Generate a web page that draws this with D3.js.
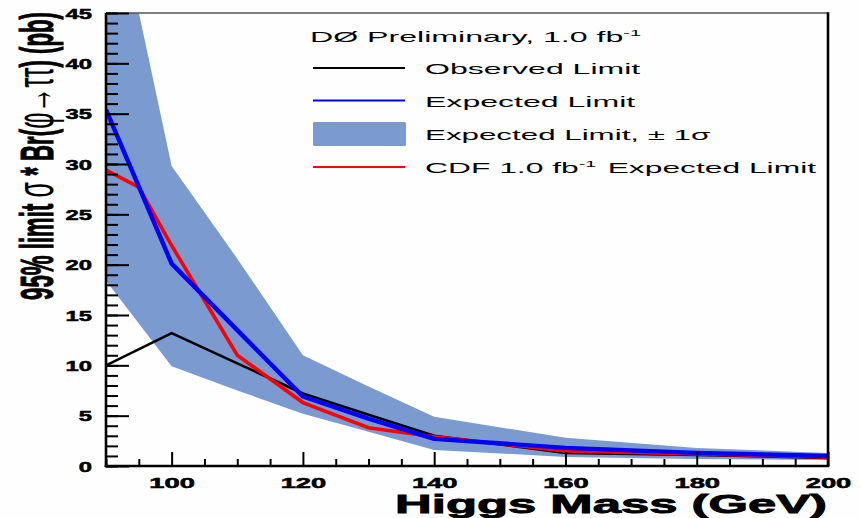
<!DOCTYPE html>
<html>
<head>
<meta charset="utf-8">
<script src="https://cdn.jsdelivr.net/npm/d3@7"></script>
<style>
  body { margin: 0; background: #fff; }
  svg { display: block; }
  text { font-family: "Liberation Sans", Arial, sans-serif; }
</style>
</head>
<body>
<div id="chart"></div>
<script>
// values (pb)
const masses = [90, 100, 110, 120, 130, 140, 160, 180, 200];
const observed = [10.0, 13.2, 10.2, 7.2, 5.1, 3.0, 1.3, 1.1, 0.8];
const expected = [35.4, 20.1, 13.5, 6.9, 4.7, 2.7, 1.8, 1.3, 1.0];
const bandHigh = [60.3, 29.8, 20.6, 11.0, 7.9, 4.9, 2.8, 1.8, 1.3];
const bandLow = [18.4, 9.9, 7.5, 5.2, 3.4, 1.6, 0.9, 0.7, 0.6];

const cdfMasses = [90, 95, 100, 110, 120, 130, 140, 160, 180, 200];
const cdfExpected = [29.4, 27.7, 21.9, 11.0, 6.3, 3.8, 2.9, 1.5, 1.2, 0.9];

const xMajor = [100, 120, 140, 160, 180, 200];
const xMinor = [90, 95, 105, 110, 115, 125, 130, 135, 145, 150, 155, 165, 170, 175, 185, 190, 195];
const yMajor = [0, 5, 10, 15, 20, 25, 30, 35, 40, 45];

const legendTitle = "DØ Preliminary, 1.0 fb^-1";
const legendLabels = ["Observed Limit", "Expected Limit", "Expected Limit, ± 1σ", "CDF 1.0 fb^-1 Expected Limit"];

const W = 861, H = 518;
const bandColor = "#7b9ad0";

const svg = d3.select("#chart").append("svg")
  .attr("width", W)
  .attr("height", H)
  .style("background", "#fefefe");

const x = d3.scaleLinear().domain([90, 200]).range([106, 828]);
const y = d3.scaleLinear().domain([0, 45]).range([466, 13]);

// stretch a text horizontally so it fills a given width (the picture is squashed)
function fit(sel, target, base) {
  sel.each(function() {
    const w = this.getBBox().width;
    d3.select(this).attr("transform", base + " scale(" + (target / w) + ",1)");
  });
}

// text with "^-1" superscripts
function richText(g, str, size) {
  const t = g.append("text").attr("font-size", size);
  str.split(/(\^-1)/).forEach(part => {
    if (part === "^-1") {
      t.append("tspan").attr("font-size", size * 0.62).attr("dy", -size * 0.42).text("-1");
      t.append("tspan").attr("font-size", size).attr("dy", size * 0.42).text("\u200a");
    } else if (part) {
      t.append("tspan").text(part);
    }
  });
  return t;
}

svg.append("clipPath").attr("id", "plot")
  .append("rect")
  .attr("x", x(90)).attr("y", y(45))
  .attr("width", x(200) - x(90)).attr("height", y(0) - y(45));

const plot = svg.append("g").attr("clip-path", "url(#plot)");

const area = d3.area()
  .x((d, i) => x(masses[i]))
  .y0((d, i) => y(bandLow[i]))
  .y1((d, i) => y(bandHigh[i]));

plot.append("path")
  .datum(masses)
  .attr("d", area)
  .attr("fill", bandColor);

const line = d3.line()
  .x(d => x(d[0]))
  .y(d => y(d[1]));

plot.append("path")
  .datum(d3.zip(masses, observed))
  .attr("d", line)
  .attr("fill", "none")
  .attr("stroke", "#000")
  .attr("stroke-width", 2.6);

plot.append("path")
  .datum(d3.zip(cdfMasses, cdfExpected))
  .attr("d", line)
  .attr("fill", "none")
  .attr("stroke", "#ff0000")
  .attr("stroke-width", 3.6);

plot.append("path")
  .datum(d3.zip(masses, expected))
  .attr("d", line)
  .attr("fill", "none")
  .attr("stroke", "#0000ff")
  .attr("stroke-width", 4.4)
  .attr("stroke-linejoin", "round");

// frame
svg.append("line")
  .attr("x1", x(90)).attr("x2", x(200))
  .attr("y1", y(45)).attr("y2", y(45))
  .attr("stroke", "#555").attr("stroke-width", 1.5);
svg.append("line")
  .attr("x1", x(200)).attr("x2", x(200))
  .attr("y1", y(45) - 0.7).attr("y2", y(0))
  .attr("stroke", "#000").attr("stroke-width", 2.6);

// x axis
const gxMinor = svg.append("g")
  .attr("transform", "translate(0," + y(0) + ")")
  .call(d3.axisBottom(x).tickValues(xMinor).tickSize(-7).tickFormat(""));
const gx = svg.append("g")
  .attr("transform", "translate(0," + y(0) + ")")
  .call(d3.axisBottom(x).tickValues(xMajor).tickSize(-14).tickFormat(d3.format("d")));

// y axis
const gyMinor = svg.append("g")
  .attr("transform", "translate(" + x(90) + ",0)")
  .call(d3.axisLeft(y).tickValues(d3.range(0, 46, 1)).tickSize(-12).tickFormat(""));
const gy = svg.append("g")
  .attr("transform", "translate(" + x(90) + ",0)")
  .call(d3.axisLeft(y).tickValues(yMajor).tickSize(-23).tickFormat(d3.format("d")));

[gx, gxMinor, gy, gyMinor].forEach(g => {
  g.select(".domain").remove();
  g.selectAll("line").attr("stroke", "#000").attr("stroke-width", 2);
});

gx.selectAll("text")
  .attr("x", 0).attr("y", 0).attr("dy", null)
  .attr("text-anchor", "middle")
  .attr("font-size", 14)
  .attr("font-weight", "bold")
  .attr("fill", "#000")
  .attr("stroke", "#000").attr("stroke-width", 0.5)
  .attr("transform", "translate(0,22) scale(1.95,1)");

gy.selectAll("text")
  .attr("x", 0).attr("y", 0).attr("dy", null)
  .attr("text-anchor", "end")
  .attr("font-size", 14)
  .attr("font-weight", "bold")
  .attr("fill", "#000")
  .attr("stroke", "#000").attr("stroke-width", 0.5)
  .attr("transform", "translate(-14,5) scale(1.7,1)");

svg.append("line")
  .attr("x1", x(90)).attr("x2", x(90))
  .attr("y1", y(45)).attr("y2", y(0) + 1.3)
  .attr("stroke", "#000").attr("stroke-width", 2.6);
svg.append("line")
  .attr("x1", x(90) - 1.3).attr("x2", x(200) + 1.3)
  .attr("y1", y(0)).attr("y2", y(0))
  .attr("stroke", "#000").attr("stroke-width", 2.6);

// axis titles
const xTitle = svg.append("text")
  .attr("text-anchor", "end")
  .attr("font-size", 25)
  .attr("font-weight", "bold")
  .attr("stroke", "#000").attr("stroke-width", 0.8)
  .text("Higgs Mass (GeV)");
fit(xTitle, 432, "translate(827,513)");

const yTitle = svg.append("text")
  .attr("text-anchor", "middle")
  .attr("font-size", 46)
  .attr("font-weight", "bold");
yTitle.append("tspan").attr("stroke", "#000").attr("stroke-width", 1).text("95% limit ");
yTitle.append("tspan").attr("font-weight", "normal").attr("font-size", 52).text("σ");
yTitle.append("tspan").attr("stroke", "#000").attr("stroke-width", 1).text(" * Br(");
yTitle.append("tspan").attr("font-weight", "normal").attr("font-size", 52).text("φ→ττ");
yTitle.append("tspan").attr("stroke", "#000").attr("stroke-width", 1).text(") (pb)");
fit(yTitle, 288, "translate(53,156) rotate(-90)");

// legend
const legend = svg.append("g");
const title = richText(legend, legendTitle, 15);
fit(title, 334, "translate(310,42)");

const rowY = [68, 100.5, 134, 167];
const labelWidths = [217, 212, 287, 393];
legendLabels.forEach((lab, i) => {
  if (i === 2) {
    legend.append("rect")
      .attr("x", 313).attr("y", rowY[i] - 12)
      .attr("width", 93).attr("height", 24)
      .attr("rx", 1.5)
      .attr("fill", bandColor);
  } else {
    legend.append("line")
      .attr("x1", 313).attr("x2", 405)
      .attr("y1", rowY[i]).attr("y2", rowY[i])
      .attr("stroke", ["#000", "#0000ff", null, "#ff0000"][i])
      .attr("stroke-width", 2.2);
  }
  const t = richText(legend, lab, 15);
  fit(t, labelWidths[i], "translate(425," + (rowY[i] + 6) + ")");
});
</script>
</body>
</html>
